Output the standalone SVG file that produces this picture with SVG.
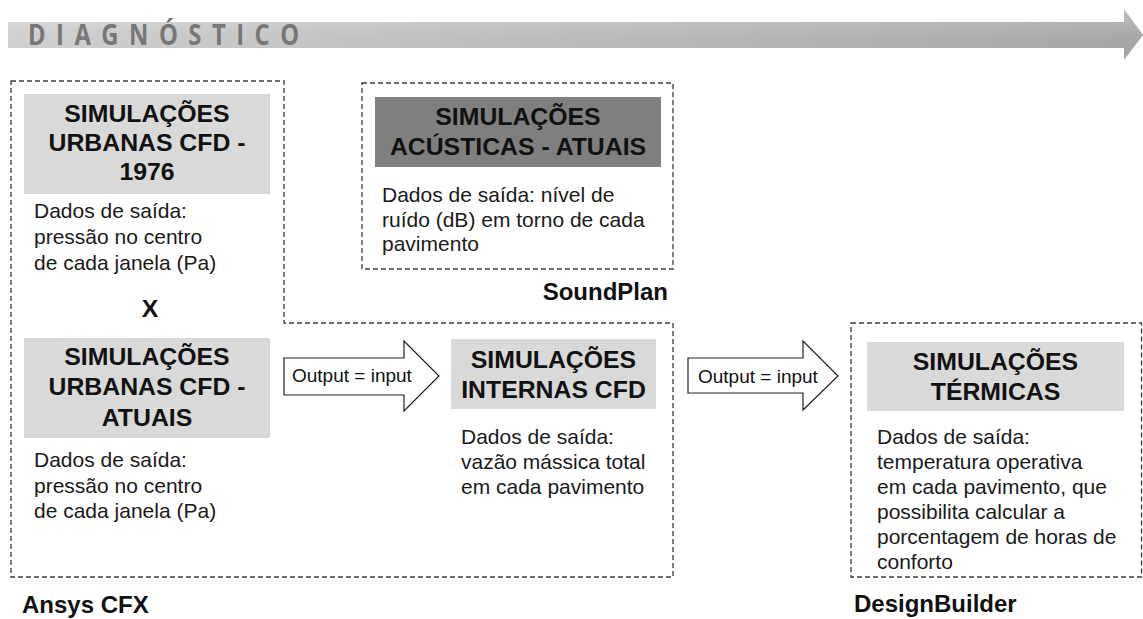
<svg xmlns="http://www.w3.org/2000/svg" width="1143" height="619" viewBox="0 0 1143 619">
  <defs>
    <linearGradient id="bannerGrad" x1="0" y1="0" x2="1" y2="0">
      <stop offset="0" stop-color="#dedede"/>
      <stop offset="1" stop-color="#b0b0b0"/>
    </linearGradient>
    <linearGradient id="bannerShade" x1="0" y1="0" x2="0" y2="1">
      <stop offset="0" stop-color="#ffffff" stop-opacity="0.25"/>
      <stop offset="1" stop-color="#000000" stop-opacity="0.04"/>
    </linearGradient>
  </defs>
  <style>
    .dash { fill: none; stroke: #3a3a3a; stroke-width: 1.3; stroke-dasharray: 5 3; }
    .light { fill: #d9d9d9; }
    .dark { fill: #7f7f7f; }
    .title { font-family: "Liberation Sans", Arial, sans-serif; font-weight: bold; font-size: 24.8px; fill: #111; text-anchor: middle; }
    .body { font-family: "Liberation Sans", Arial, sans-serif; font-size: 21px; fill: #1a1a1a; }
    .tool { font-family: "Liberation Sans", Arial, sans-serif; font-weight: bold; font-size: 24px; fill: #111; }
    .arrow { fill: #fff; stroke: #222; stroke-width: 1.2; stroke-linejoin: miter; }
    .arrowtxt { font-family: "Liberation Sans", Arial, sans-serif; font-size: 19px; fill: #111; }
  </style>

  <g id="banner">
    <path d="M8,22 H1124 V9 L1143,35 L1124,60 V48 H8 Z" fill="url(#bannerGrad)"/>
    <path d="M8,22 H1124 V9 L1143,35 L1124,60 V48 H8 Z" fill="url(#bannerShade)"/>
    <text transform="translate(28,45) scale(0.85,1)" x="0" y="0" font-family="'Open Sans', 'DejaVu Sans', sans-serif" font-weight="bold" font-size="28" fill="#777777" textLength="319" lengthAdjust="spacing">DIAGNÓSTICO</text>
  </g>

  <g id="group-ansys">
    <path class="dash" d="M11,81 H284 V323 H673 V577 H11 Z"/>
    <text class="tool" x="22" y="613">Ansys CFX</text>
  </g>

  <g id="node-urbanas-1976">
    <rect class="light" x="24" y="94" width="246" height="100"/>
    <text class="title" x="147" y="122">SIMULAÇÕES</text>
    <text class="title" x="147" y="151">URBANAS CFD -</text>
    <text class="title" x="147" y="180">1976</text>
    <text class="body" x="34" y="218">Dados de saída:</text>
    <text class="body" x="34" y="244">pressão no centro</text>
    <text class="body" x="34" y="270">de cada janela (Pa)</text>
  </g>

  <g id="cross">
    <text class="title" x="150" y="317">X</text>
  </g>

  <g id="node-urbanas-atuais">
    <rect class="light" x="24" y="338" width="246" height="100"/>
    <text class="title" x="147" y="365">SIMULAÇÕES</text>
    <text class="title" x="147" y="395">URBANAS CFD -</text>
    <text class="title" x="147" y="426">ATUAIS</text>
    <text class="body" x="34" y="467">Dados de saída:</text>
    <text class="body" x="34" y="493">pressão no centro</text>
    <text class="body" x="34" y="518">de cada janela (Pa)</text>
  </g>

  <g id="node-internas">
    <rect class="light" x="451" y="339" width="205" height="70"/>
    <text class="title" x="553.5" y="368">SIMULAÇÕES</text>
    <text class="title" x="553.5" y="398">INTERNAS CFD</text>
    <text class="body" x="461" y="444">Dados de saída:</text>
    <text class="body" x="461" y="469">vazão mássica total</text>
    <text class="body" x="461" y="494">em cada pavimento</text>
  </g>

  <g id="node-acusticas">
    <rect class="dash" x="362" y="83" width="311" height="186"/>
    <rect class="dark" x="375" y="97" width="286" height="70"/>
    <text class="title" x="518" y="125">SIMULAÇÕES</text>
    <text class="title" x="518" y="155">ACÚSTICAS - ATUAIS</text>
    <text class="body" x="382" y="202">Dados de saída: nível de</text>
    <text class="body" x="382" y="227">ruído (dB) em torno de cada</text>
    <text class="body" x="382" y="251">pavimento</text>
    <text class="tool" x="668" y="300" text-anchor="end">SoundPlan</text>
  </g>

  <g id="node-termicas">
    <rect class="dash" x="851" y="323" width="290.5" height="254"/>
    <rect class="light" x="867" y="342" width="257" height="69"/>
    <text class="title" x="995.5" y="370">SIMULAÇÕES</text>
    <text class="title" x="995.5" y="400">TÉRMICAS</text>
    <text class="body" x="877" y="444">Dados de saída:</text>
    <text class="body" x="877" y="469">temperatura operativa</text>
    <text class="body" x="877" y="494">em cada pavimento, que</text>
    <text class="body" x="877" y="519">possibilita calcular a</text>
    <text class="body" x="877" y="544">porcentagem de horas de</text>
    <text class="body" x="877" y="569">conforto</text>
    <text class="tool" x="854" y="612">DesignBuilder</text>
  </g>

  <g id="connectors">
    <polygon class="arrow" points="284,358 404,358 404,341 439,376 404,411 404,395 284,395"/>
    <text class="arrowtxt" x="292" y="382">Output = input</text>
    <polygon class="arrow" points="688,358 803,358 803,341 838,376 803,410 803,393 688,393"/>
    <text class="arrowtxt" x="698" y="383">Output = input</text>
  </g>
</svg>
